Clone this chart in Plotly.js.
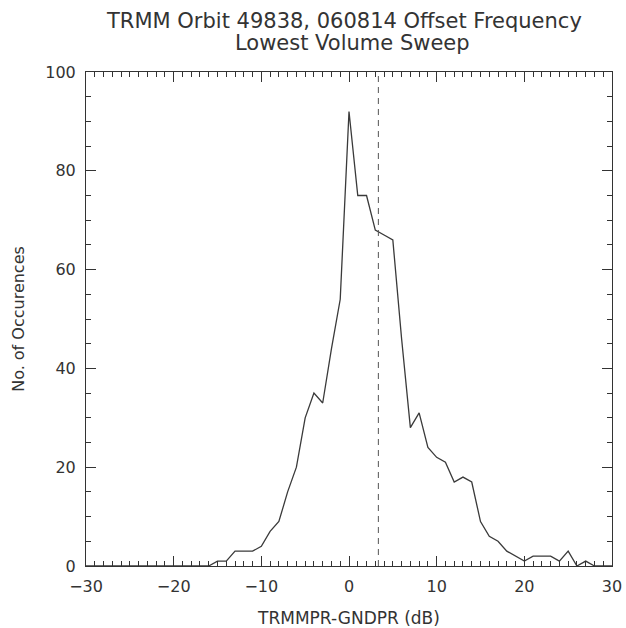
<!DOCTYPE html>
<html>
<head>
<meta charset="utf-8">
<script src="https://cdn.plot.ly/plotly-3.0.1.min.js"></script>
<style>html,body{margin:0;padding:0;background:#fff;}#chart{width:626px;height:628px;}</style>
</head>
<body>
<div id="chart"></div>
<script>
// Offset bins (dB)
const offsetDb = [-30,-29,-28,-27,-26,-25,-24,-23,-22,-21,-20,-19,-18,-17,-16,-15,-14,-13,-12,-11,
  -10,-9,-8,-7,-6,-5,-4,-3,-2,-1,0,1,2,3,4,5,6,7,8,9,10,11,12,13,14,15,16,17,18,19,20,
  21,22,23,24,25,26,27,28,29,30];
// Number of occurrences per bin
const occurrences = [0,0,0,0,0,0,0,0,0,0,0,0,0,0,0,1,1,3,3,3,
  4,7,9,15,20,30,35,33,44,54,92,75,75,68,67,66,46,28,31,24,22,
  21,17,18,17,9,6,5,3,2,1,2,2,2,1,3,0,1,0,0,0];
// Mean offset (dashed marker)
const meanOffset = [3.35, 3.35];
const meanSpan = [0, 100];
const titleLines = ["TRMM Orbit 49838, 060814 Offset Frequency", "Lowest Volume Sweep"];

const fontFam = "DejaVu Sans, sans-serif";
const ink = "#333";

const traces = [
  {x: offsetDb, y: occurrences, type: "scatter", mode: "lines",
   line: {color: "#3a3a3a", width: 1.3}, hoverinfo: "x+y"},
  {x: meanOffset, y: meanSpan, type: "scatter", mode: "lines",
   line: {color: "#555", width: 1, dash: "6px,5px"}, hoverinfo: "skip"}
];

const axisCommon = {
  showgrid: false, zeroline: false, showline: true, linecolor: ink, linewidth: 1,
  mirror: "ticks", ticks: "inside", ticklen: 10, tickwidth: 1, tickcolor: ink,
  tickfont: {family: fontFam, size: 16, color: ink}
};

const layout = {
  width: 626, height: 628,
  margin: {l: 86, r: 14, t: 72, b: 62},
  paper_bgcolor: "#fff", plot_bgcolor: "#fff",
  showlegend: false,
  xaxis: Object.assign({}, axisCommon, {
    range: [-30, 30], dtick: 10, tick0: 0,
    minor: {dtick: 1, ticks: "inside", ticklen: 5, tickwidth: 1, tickcolor: ink, showgrid: false},
    ticklabelstandoff: 6,
    title: {text: "TRMMPR-GNDPR (dB)", font: {family: fontFam, size: 17, color: ink}, standoff: 17}
  }),
  yaxis: Object.assign({}, axisCommon, {
    range: [0, 100], dtick: 20, tick0: 0,
    minor: {dtick: 5, ticks: "inside", ticklen: 5, tickwidth: 1, tickcolor: ink, showgrid: false},
    ticklabelstandoff: 6,
    title: {text: "No. of Occurences", font: {family: fontFam, size: 16, color: ink}, standoff: 16}
  }),
  annotations: [
    {text: titleLines[0], xref: "paper", yref: "paper", x: 0.49, y: (566.5 - 21) / 494.5,
     xanchor: "center", yanchor: "middle", showarrow: false,
     font: {family: fontFam, size: 21, color: ink}},
    {text: titleLines[1], xref: "paper", yref: "paper", x: 0.507, y: (566.5 - 43) / 494.5,
     xanchor: "center", yanchor: "middle", showarrow: false,
     font: {family: fontFam, size: 21, color: ink}}
  ]
};

Plotly.newPlot("chart", traces, layout, {displayModeBar: false, staticPlot: true});
</script>
</body>
</html>
